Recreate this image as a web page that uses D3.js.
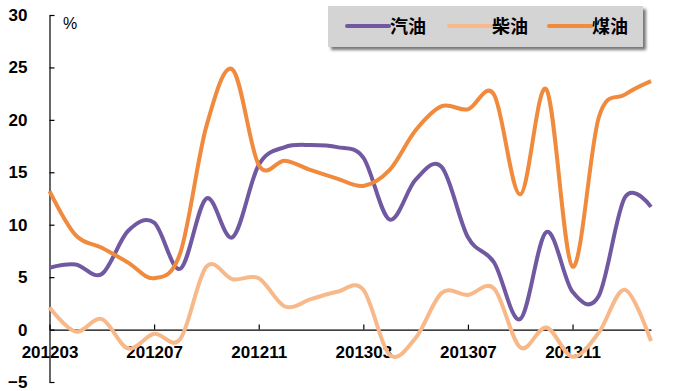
<!DOCTYPE html>
<html>
<head>
<meta charset="utf-8">
<script src="https://cdn.jsdelivr.net/npm/d3@7/dist/d3.min.js"></script>
<style>
  body { margin: 0; background: #fff; }
  svg text { font-family: "Liberation Sans", Arial, sans-serif; }
</style>
</head>
<body>
<div id="chart"></div>
<script>
// monthly data, 201203 - 201402
const months = ["201203","201204","201205","201206","201207","201208","201209","201210",
  "201211","201212","201301","201302","201303","201304","201305","201306","201307",
  "201308","201309","201310","201311","201312","201401","201402"];
const gasoline = [5.9, 6.2, 5.3, 9.4, 10.2, 5.8, 12.5, 8.8, 15.7, 17.4, 17.6, 17.4,
  16.4, 10.5, 14.3, 15.5, 8.8, 6.4, 1.0, 9.3, 3.6, 3.2, 12.6, 11.7];
const diesel = [2.1, -0.2, 1.0, -1.8, -0.4, -0.9, 6.0, 4.8, 4.9, 2.2, 2.9, 3.6,
  3.8, -2.4, -0.8, 3.5, 3.3, 3.9, -1.7, 0.2, -2.6, -0.3, 3.8, -1.1];
const kerosene = [13.2, 9.0, 7.8, 6.4, 4.9, 7.3, 19.4, 24.8, 15.7, 16.1, 15.2, 14.4,
  13.7, 15.2, 19.0, 21.3, 21.0, 22.4, 12.9, 22.9, 6.0, 20.2, 22.4, 23.7];
const seriesNames = ["汽油", "柴油", "煤油"];
const yTicks = [-5, 0, 5, 10, 15, 20, 25, 30];

const colors = ["#7059a0", "#f8b98a", "#f08a3c"];
const width = 677, height = 391;

const svg = d3.select("#chart").append("svg")
  .attr("width", width).attr("height", height);

const x = d3.scalePoint().domain(months).range([49.5, 651]);
const y = d3.scaleLinear().domain([-5, 30]).range([382, 15]);

// y axis, ticks pointing inward
const yAxis = svg.append("g")
  .attr("transform", "translate(49.5,0)")
  .call(d3.axisLeft(y).tickValues(yTicks).tickSizeInner(-5).tickSizeOuter(0).tickPadding(22));

// x axis sits on zero
const xAxis = svg.append("g")
  .attr("transform", `translate(0,${y(0)})`)
  .call(d3.axisBottom(x)
    .tickValues(months.filter((d, i) => i % 4 === 0))
    .tickSizeInner(-5).tickSizeOuter(0).tickPadding(16));

[yAxis, xAxis].forEach(g => {
  g.selectAll("path, line").attr("stroke", "#000").attr("stroke-width", 1.2);
  g.selectAll("text").attr("fill", "#000")
    .style("font-size", "17px").style("font-weight", "bold");
});

svg.append("text").attr("x", 63).attr("y", 29)
  .style("font-size", "16px").text("%");

const line = d3.line()
  .x((d, i) => x(months[i]))
  .y(d => y(d))
  .curve(d3.curveCardinal.tension(0));

const allSeries = [gasoline, diesel, kerosene];
// draw order: diesel underneath
[1, 0, 2].forEach(k => {
  svg.append("path")
    .datum(allSeries[k])
    .attr("d", line)
    .attr("fill", "none")
    .attr("stroke", colors[k])
    .attr("stroke-width", 4)
    .attr("stroke-linejoin", "round");
});

// legend
const defs = svg.append("defs");
defs.append("filter").attr("id", "blur")
  .append("feGaussianBlur").attr("stdDeviation", 1.5);

const lg = svg.append("g").attr("transform", "translate(328,6)");
lg.append("rect").attr("x", 3).attr("y", 3).attr("width", 315).attr("height", 41)
  .attr("fill", "#777").attr("filter", "url(#blur)");
lg.append("rect").attr("width", 315).attr("height", 41).attr("fill", "#d4d4d4");

const legendX = [19, 121, 221];
seriesNames.forEach((name, k) => {
  lg.append("line")
    .attr("x1", legendX[k]).attr("x2", legendX[k] + 42)
    .attr("y1", 20).attr("y2", 20)
    .attr("stroke", colors[k]).attr("stroke-width", 4)
    .attr("stroke-linecap", "round");
  lg.append("text")
    .attr("x", legendX[k] + 43).attr("y", 27)
    .style("font-family", "'Noto Sans CJK SC', sans-serif")
    .style("font-size", "18px").style("font-weight", "bold")
    .text(name);
});
</script>
</body>
</html>
